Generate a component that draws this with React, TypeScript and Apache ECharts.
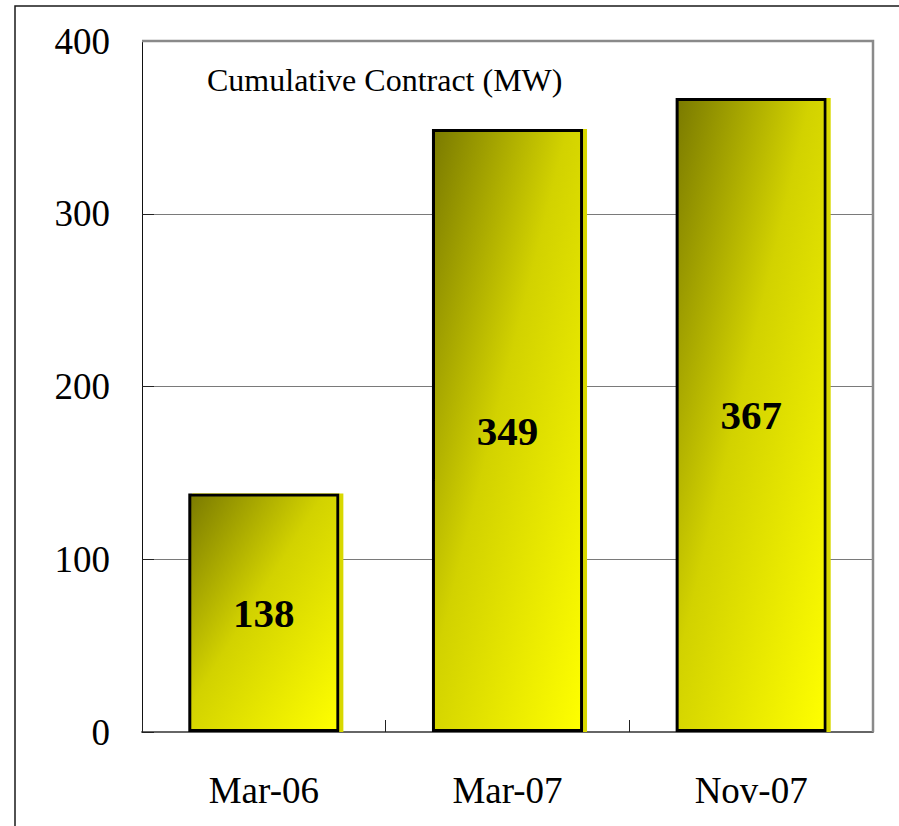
import React, { useEffect, useRef } from "react";
import * as echarts from "echarts";

const categories = ["Mar-06", "Mar-07", "Nov-07"];
const values = [138, 349, 367];
const yTicks = { min: 0, max: 400, interval: 100 };
const chartTitle = "Cumulative Contract (MW)";

const FONT = "Liberation Serif";

export default function App() {
  const ref = useRef<HTMLDivElement>(null);
  useEffect(() => {
    if (!ref.current) return;
    const chart = echarts.init(ref.current, undefined, { renderer: "svg" });
    chart.setOption({
      animation: false,
      backgroundColor: "#ffffff",
      grid: { left: 142, top: 41, right: 26, bottom: 94, containLabel: false },
      xAxis: {
        type: "category",
        data: categories,
        boundaryGap: true,
        axisLine: { show: true, lineStyle: { color: "#666666", width: 2 } },
        axisTick: { show: true, inside: true, length: 12, alignWithLabel: false, lineStyle: { color: "#222222", width: 1 } },
        axisLabel: { color: "#000", fontFamily: FONT, fontSize: 37, margin: 40 },
        splitLine: { show: false },
      },
      yAxis: {
        type: "value",
        min: yTicks.min,
        max: yTicks.max,
        interval: yTicks.interval,
        axisLine: { show: true, lineStyle: { color: "#111111", width: 1 } },
        axisTick: { show: true, inside: true, length: 12, lineStyle: { color: "#222222", width: 1 } },
        axisLabel: { color: "#000", fontFamily: FONT, fontSize: 37, margin: 32 },
        splitLine: { show: true, lineStyle: { color: "#7a7a7a", width: 1 } },
      },
      series: [
        {
          type: "bar",
          data: values,
          barWidth: "62%",
          z: 3,
          itemStyle: {
            color: new echarts.graphic.LinearGradient(0, 0, 1, 1, [
              { offset: 0, color: "#7a7a00" },
              { offset: 0.45, color: "#d2d200" },
              { offset: 1, color: "#ffff00" },
            ]),
            borderColor: "#000000",
            borderWidth: 3,
            shadowColor: "#d8d800",
            shadowBlur: 0,
            shadowOffsetX: 4,
            shadowOffsetY: 0,
          },
          label: {
            show: true,
            position: "inside",
            color: "#000",
            fontFamily: FONT,
            fontWeight: "bold",
            fontSize: 41,
          },
        },
      ],
      graphic: [
        {
          type: "polyline",
          shape: { points: [[15, 830], [15, 6], [900, 6]] },
          style: { stroke: "#1a1a1a", lineWidth: 1.5, fill: "none" },
          z: 0,
        },
        {
          type: "polyline",
          shape: { points: [[142, 41], [873, 41], [873, 732]] },
          style: { stroke: "#8a8a8a", lineWidth: 2.5, fill: "none" },
          z: 1,
        },
        {
          type: "text",
          x: 207,
          y: 80,
          style: {
            text: chartTitle,
            fontFamily: FONT,
            fontSize: 32,
            fill: "#000",
            verticalAlign: "middle",
            align: "left",
          },
          z: 5,
        },
      ],
    });
    return () => chart.dispose();
  }, []);
  return (
    <div
      ref={ref}
      style={{ position: "fixed", left: 0, top: 0, width: 899, height: 826 }}
    />
  );
}
